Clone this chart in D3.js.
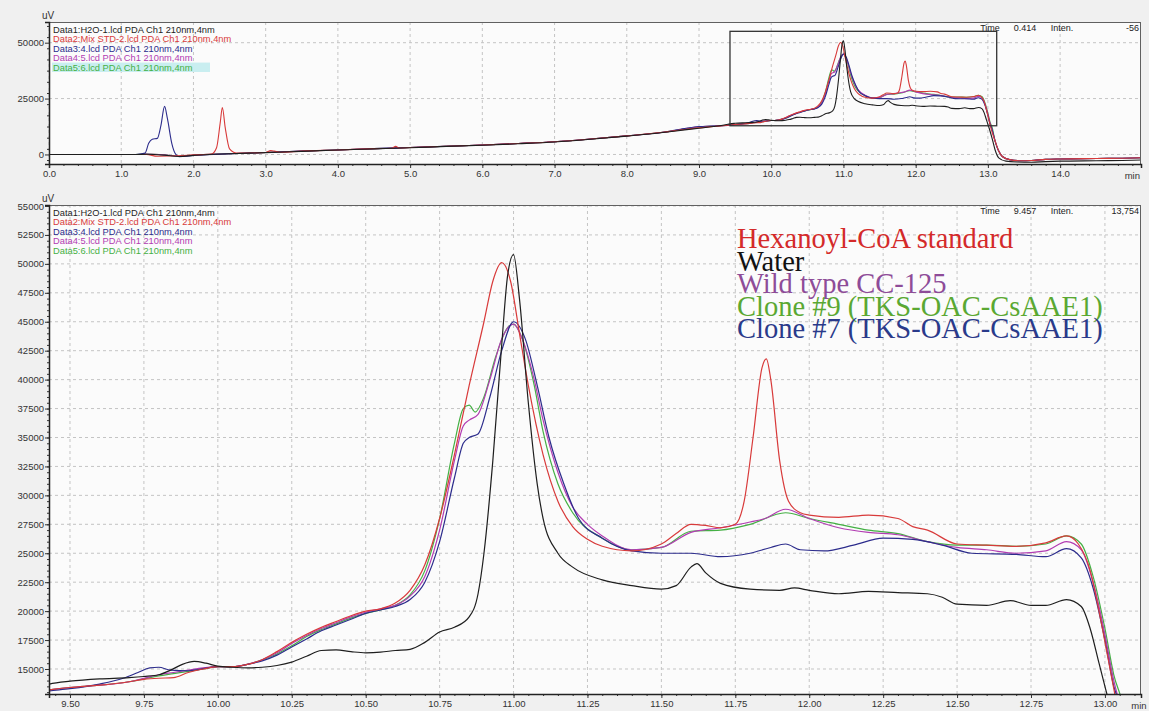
<!DOCTYPE html>
<html>
<head>
<meta charset="utf-8">
<script src="https://cdn.jsdelivr.net/npm/d3@7/dist/d3.min.js"></script>
<style>
  body { margin: 0; background: #f0f0f0; }
  svg { display: block; font-family: 'Liberation Sans', Arial, sans-serif; }
</style>
</head>
<body>
<svg id="chart" width="1149" height="711"></svg>
<script>
/* chromatogram data, [time (min), intensity (uV)] */
const waterEarly = [[0, 0], [1.2, 0], [1.35, 100], [1.6, -300], [1.8, -900], [2.0, -400], [2.5, 300], [3.0, 800], [3.5, 1400], [4.0, 2000],
  [4.5, 2500], [5.0, 3000], [5.5, 3600], [6.0, 4100], [6.5, 4800], [7.0, 5600], [7.5, 6800], [8.0, 8200], [8.5, 9800], [8.8, 11000],
  [9.0, 11700], [9.2, 12500], [9.4, 13500]];
const stdEarly = [[0, 0], [1.2, 0], [1.35, 0], [1.5, -800], [1.8, -600], [2.0, -200], [2.25, 200], [2.32, 3000], [2.37, 14000], [2.4, 21000],
  [2.44, 12000], [2.5, 2500], [2.6, 600], [3.0, 900], [3.07, 1700], [3.12, 1500], [3.2, 1000], [3.5, 1500], [4.0, 2000], [4.5, 2600],
  [4.75, 2800], [4.8, 3600], [4.85, 2900], [5.0, 3100], [5.5, 3700], [6.0, 4200], [6.5, 4900], [7.0, 5700], [7.5, 6900], [8.0, 8300],
  [8.5, 9900], [8.8, 11200], [9.0, 11900], [9.2, 12500], [9.4, 13100]];
const wtEarly = [[0, 0], [1.2, 0], [1.35, 200], [1.6, -200], [1.8, -800], [2.0, -300], [2.5, 300], [3.0, 900], [3.5, 1500], [4.0, 2000],
  [4.5, 2600], [5.0, 3100], [5.5, 3700], [6.0, 4200], [6.5, 4900], [7.0, 5700], [7.5, 6900], [8.0, 8300], [8.5, 9900], [8.8, 11500],
  [9.0, 12400], [9.2, 12700], [9.4, 13100]];
const c9Early = [[0, 0], [1.2, 0], [1.35, 150], [1.6, -200], [1.8, -800], [2.0, -300], [2.5, 300], [3.0, 900], [3.5, 1500], [4.0, 2000],
  [4.5, 2600], [5.0, 3100], [5.5, 3700], [6.0, 4200], [6.5, 4900], [7.0, 5700], [7.5, 6900], [8.0, 8300], [8.5, 9900], [8.8, 11400],
  [9.0, 12300], [9.2, 12700], [9.4, 13100]];
const c7Early = [[0, 0], [1.2, 0], [1.33, 600], [1.38, 5000], [1.43, 6800], [1.5, 7200], [1.55, 13000], [1.6, 21500], [1.64, 16000],
  [1.7, 5000], [1.75, 300], [1.8, -1000], [2.0, -500], [2.5, 300], [3.0, 900], [3.5, 1500], [4.0, 2000], [4.5, 2600], [5.0, 3100],
  [5.5, 3700], [6.0, 4200], [6.5, 4900], [7.0, 5700], [7.5, 6900], [8.0, 8300], [8.5, 9900], [8.8, 11600], [9.0, 12500], [9.2, 12700],
  [9.4, 13000]];

const waterMain = [[9.43, 13700], [9.5, 13950], [9.6, 14150], [9.7, 14250], [9.75, 14350], [9.8, 14500], [9.84, 14900], [9.88, 15400],
  [9.92, 15650], [9.96, 15500], [10.0, 15250], [10.05, 15150], [10.1, 15100], [10.15, 15150], [10.2, 15300], [10.25, 15600], [10.3, 16100],
  [10.35, 16600], [10.4, 16650], [10.45, 16500], [10.5, 16400], [10.55, 16450], [10.6, 16600], [10.65, 16700], [10.7, 17300],
  [10.75, 18200], [10.8, 18600], [10.85, 19500], [10.88, 21500], [10.9, 25000], [10.93, 33000], [10.96, 43000], [10.98, 49000],
  [11.0, 50800], [11.02, 47000], [11.05, 38000], [11.08, 31000], [11.1, 28000], [11.15, 25000], [11.2, 23800], [11.3, 22700],
  [11.4, 22200], [11.5, 21900], [11.55, 22200], [11.6, 23800], [11.62, 24100], [11.65, 23300], [11.7, 22400], [11.8, 21900],
  [11.9, 21800], [11.95, 22000], [12.0, 21800], [12.1, 21500], [12.2, 21700], [12.3, 21600], [12.4, 21500], [12.45, 21200],
  [12.5, 20600], [12.6, 20500], [12.68, 20900], [12.75, 20500], [12.8, 20500], [12.87, 21000], [12.92, 20400], [12.95, 18500],
  [12.98, 15500], [13.0, 13500], [13.02, 11500]];
const stdMain = [[9.43, 13200], [9.5, 13400], [9.6, 13600], [9.7, 13900], [9.75, 14100], [9.8, 14200], [9.85, 14250], [9.9, 14700],
  [9.95, 15000], [10.0, 15200], [10.05, 15200], [10.1, 15400], [10.15, 15800], [10.2, 16500], [10.25, 17300], [10.3, 18000],
  [10.35, 18600], [10.4, 19100], [10.45, 19600], [10.5, 20000], [10.55, 20200], [10.6, 20700], [10.65, 21800], [10.7, 24000],
  [10.75, 28000], [10.8, 33500], [10.85, 39500], [10.9, 45000], [10.93, 48500], [10.96, 50100], [10.99, 48500], [11.02, 44000],
  [11.05, 39500], [11.1, 33500], [11.15, 29500], [11.2, 27300], [11.25, 26200], [11.3, 25600], [11.4, 25200], [11.5, 25800],
  [11.55, 26700], [11.6, 27500], [11.65, 27400], [11.7, 27200], [11.75, 27500], [11.78, 29500], [11.81, 35000], [11.84, 41000],
  [11.855, 41800], [11.87, 40000], [11.9, 33000], [11.93, 29500], [11.97, 28500], [12.0, 28300], [12.1, 28100], [12.2, 28300],
  [12.3, 28000], [12.35, 27300], [12.4, 27000], [12.5, 25800], [12.6, 25700], [12.7, 25600], [12.8, 25900], [12.87, 26500],
  [12.91, 25800], [12.95, 23500], [12.98, 20000], [13.01, 16000], [13.04, 12000]];
const wtMain = [[9.43, 13200], [9.5, 13400], [9.6, 13600], [9.7, 13900], [9.75, 14200], [9.8, 14500], [9.85, 14700], [9.9, 14900],
  [9.95, 15100], [10.0, 15200], [10.05, 15200], [10.1, 15400], [10.15, 15800], [10.2, 16400], [10.25, 17200], [10.3, 17900],
  [10.35, 18500], [10.4, 19000], [10.45, 19500], [10.5, 19900], [10.55, 20200], [10.6, 20500], [10.65, 21300], [10.7, 23000],
  [10.75, 27000], [10.8, 33000], [10.83, 36000], [10.85, 36500], [10.88, 37000], [10.92, 40000], [10.96, 43500], [11.0, 44800],
  [11.03, 43500], [11.07, 40000], [11.1, 36500], [11.15, 32000], [11.2, 29000], [11.25, 27500], [11.3, 26500], [11.4, 25300],
  [11.5, 25500], [11.6, 26800], [11.7, 27200], [11.8, 27700], [11.85, 28000], [11.92, 28800], [12.0, 28000], [12.1, 27200],
  [12.2, 26800], [12.3, 26600], [12.4, 26000], [12.5, 25500], [12.6, 25300], [12.7, 25000], [12.8, 25200], [12.87, 26000],
  [12.92, 25300], [12.96, 22500], [13.0, 18000], [13.03, 14000], [13.05, 12000]];
const c9Main = [[9.43, 13200], [9.5, 13400], [9.6, 13600], [9.7, 13900], [9.75, 14150], [9.8, 14400], [9.85, 14600], [9.9, 14800],
  [9.95, 15000], [10.0, 15200], [10.05, 15200], [10.1, 15400], [10.15, 15800], [10.2, 16300], [10.25, 17000], [10.3, 17800],
  [10.35, 18400], [10.4, 18900], [10.45, 19400], [10.5, 19800], [10.55, 20100], [10.6, 20500], [10.65, 21400], [10.7, 23500],
  [10.75, 28000], [10.8, 34500], [10.83, 37500], [10.85, 37800], [10.87, 37200], [10.9, 38500], [10.94, 42000], [10.98, 44500],
  [11.0, 44800], [11.03, 43500], [11.07, 39500], [11.1, 35500], [11.15, 31000], [11.2, 28500], [11.3, 26300], [11.4, 25300],
  [11.5, 25500], [11.6, 26900], [11.7, 27000], [11.8, 27500], [11.92, 28500], [12.0, 28000], [12.1, 27500], [12.2, 27000],
  [12.3, 26700], [12.4, 26000], [12.5, 25700], [12.6, 25700], [12.7, 25600], [12.8, 25800], [12.87, 26500], [12.92, 25800],
  [12.96, 23000], [13.0, 18500], [13.03, 14500], [13.06, 12000]];
const c7Main = [[9.43, 13100], [9.5, 13300], [9.6, 13700], [9.68, 14200], [9.73, 14700], [9.77, 15100], [9.8, 15150], [9.84, 14900],
  [9.9, 14850], [10.0, 15200], [10.05, 15200], [10.1, 15400], [10.15, 15700], [10.2, 16200], [10.25, 16900], [10.3, 17600],
  [10.35, 18300], [10.4, 18800], [10.45, 19300], [10.5, 19800], [10.55, 20100], [10.6, 20400], [10.65, 21000], [10.7, 22500],
  [10.75, 26000], [10.8, 31500], [10.83, 34500], [10.85, 35000], [10.88, 35300], [10.92, 38500], [10.96, 42500], [11.0, 45000],
  [11.04, 43500], [11.08, 39500], [11.12, 35000], [11.17, 31000], [11.22, 28000], [11.3, 26300], [11.4, 25200], [11.5, 25000],
  [11.6, 25000], [11.7, 24700], [11.8, 25000], [11.87, 25500], [11.92, 25800], [11.97, 25300], [12.05, 25200], [12.15, 25700],
  [12.25, 26300], [12.35, 26200], [12.45, 25700], [12.55, 25000], [12.7, 24900], [12.8, 24700], [12.87, 25400], [12.92, 24600],
  [12.96, 22000], [13.0, 17500], [13.03, 13500], [13.05, 12000]];

const waterTail = [[13.06, 7000], [13.1, 2000], [13.15, -1500], [13.25, -3000], [13.4, -3400], [13.6, -3500], [13.8, -3200],
  [14.0, -3000], [14.5, -2800], [15.0, -2600], [15.12, -2500]];
const sampleTail = [[13.1, 6000], [13.15, 1500], [13.2, -900], [13.3, -2300], [13.45, -2800], [13.6, -2700], [13.8, -2200],
  [14.0, -2000], [14.5, -1800], [15.0, -1600], [15.12, -1500]];

const seriesNames = ['Data1:H2O-1.lcd PDA Ch1 210nm,4nm', 'Data2:Mix STD-2.lcd PDA Ch1 210nm,4nm',
  'Data3:4.lcd PDA Ch1 210nm,4nm', 'Data4:5.lcd PDA Ch1 210nm,4nm', 'Data5:6.lcd PDA Ch1 210nm,4nm'];
const seriesColors = ['#1e1e1e', '#d83a3a', '#2c2c8c', '#b23cb2', '#44b044'];
const seriesData = [
  waterEarly.concat(waterMain, waterTail),
  stdEarly.concat(stdMain, sampleTail),
  c7Early.concat(c7Main, sampleTail),
  wtEarly.concat(wtMain, sampleTail),
  c9Early.concat(c9Main, sampleTail),
];
// draw order, back to front
const drawOrder = [4, 3, 2, 1, 0];

const legendLabels = ['Hexanoyl-CoA standard', 'Water', 'Wild type CC-125', 'Clone #9 (TKS-OAC-CsAAE1)', 'Clone #7 (TKS-OAC-CsAAE1)'];
const legendColors = ['#d42a2a', '#111111', '#8e4c98', '#5aa832', '#2a3a8a'];

const topXTicks = d3.range(0, 15, 1);
const topYTicks = [0, 25000, 50000];
const botXTicks = d3.range(9.5, 13.01, 0.25);
const botYTicks = d3.range(15000, 55001, 2500);

const svg = d3.select('#chart');
const left = 49;
const right = 1141;

/**
 * Build one chromatogram panel
 * @param {obj} p panel settings
 */
function panel(p) {
  const { x, y, id } = p;
  const [y1, y0] = y.range();
  const g = svg.append('g').attr('class', id);

  g.append('rect')
    .attr('x', left).attr('y', y0)
    .attr('width', right - left).attr('height', y1 - y0)
    .attr('fill', '#fbfbfb');

  // dashed grid
  g.append('g')
    .selectAll('line')
    .data(p.xTicks)
    .join('line')
    .attr('x1', (d) => x(d)).attr('x2', (d) => x(d))
    .attr('y1', y0).attr('y2', y1)
    .attr('stroke', '#c4c4c4')
    .attr('stroke-dasharray', '3,3');
  g.append('g')
    .selectAll('line')
    .data(p.yTicks)
    .join('line')
    .attr('y1', (d) => y(d)).attr('y2', (d) => y(d))
    .attr('x1', left).attr('x2', right)
    .attr('stroke', '#c4c4c4')
    .attr('stroke-dasharray', '3,3');

  // traces
  g.append('clipPath').attr('id', `clip-${id}`)
    .append('rect')
    .attr('x', left).attr('y', y0)
    .attr('width', right - left).attr('height', y1 - y0);
  const line = d3.line()
    .x((d) => x(d[0]))
    .y((d) => y(d[1]))
    .curve(d3.curveMonotoneX);
  g.append('g')
    .attr('clip-path', `url(#clip-${id})`)
    .selectAll('path')
    .data(drawOrder)
    .join('path')
    .attr('d', (i) => line(seriesData[i]))
    .attr('fill', 'none')
    .attr('stroke', (i) => seriesColors[i])
    .attr('stroke-width', p.lineWidth)
    .attr('stroke-linejoin', 'round');

  // frame
  g.append('rect')
    .attr('x', left + 0.5).attr('y', y0 + 0.5)
    .attr('width', right - left - 1).attr('height', y1 - y0)
    .attr('fill', 'none')
    .attr('stroke', '#606060');

  // axes
  g.append('g')
    .attr('transform', `translate(0,${y1})`)
    .call(d3.axisBottom(x).tickValues(p.xMinor).tickSize(2).tickFormat(''))
    .call((a) => a.select('.domain').remove());
  g.append('g')
    .attr('transform', `translate(0,${y1})`)
    .call(d3.axisBottom(x).tickValues(p.xTicks).tickSize(4).tickPadding(2).tickFormat(p.xFormat))
    .call((a) => a.select('.domain').attr('stroke', '#222').attr('stroke-width', 1.5));
  g.append('g')
    .attr('transform', `translate(${left},0)`)
    .call(d3.axisLeft(y).tickValues(p.yMinor).tickSize(2).tickFormat(''))
    .call((a) => a.select('.domain').remove());
  g.append('g')
    .attr('transform', `translate(${left},0)`)
    .call(d3.axisLeft(y).tickValues(p.yTicks).tickSize(4).tickPadding(1).tickFormat((d) => `${d}`))
    .call((a) => a.select('.domain').attr('stroke', '#222').attr('stroke-width', 1.5));
  g.selectAll('.tick text')
    .attr('fill', '#333')
    .style('font-size', '9.5px');
  g.selectAll('.tick line').attr('stroke', '#333');

  g.append('text')
    .attr('x', x(p.minAt)).attr('y', y1 + 15)
    .attr('text-anchor', 'middle')
    .attr('fill', '#333')
    .style('font-size', '9.5px')
    .text('min');
  g.append('text')
    .attr('x', 42).attr('y', y0 - 3)
    .attr('fill', '#333')
    .style('font-size', '10px')
    .text('uV');

  // data file legend
  g.append('rect')
    .attr('x', left + 3).attr('y', y0 + 3 + 4 * 9.4)
    .attr('width', 158).attr('height', 9.4)
    .attr('fill', p.highlight ? '#c9eef0' : 'none');
  g.append('g')
    .selectAll('text')
    .data(seriesNames)
    .join('text')
    .attr('x', left + 4)
    .attr('y', (d, i) => y0 + 11 + i * 9.4)
    .attr('fill', (d, i) => seriesColors[i])
    .style('font-size', '9.3px')
    .text((d) => d);

  // cursor readout
  const readout = g.append('g').style('font-size', '9px').attr('fill', '#222');
  readout.append('text').attr('x', 990).attr('y', y0 + 9).attr('text-anchor', 'middle').text('Time');
  readout.append('text').attr('x', 1025).attr('y', y0 + 9).attr('text-anchor', 'middle').text(p.time);
  readout.append('text').attr('x', 1062).attr('y', y0 + 9).attr('text-anchor', 'middle').text('Inten.');
  readout.append('text').attr('x', right - 2).attr('y', y0 + 9).attr('text-anchor', 'end').text(p.inten);
  return g;
}

const xTop = d3.scaleLinear().domain([0, 15.12]).range([left, right]);
const yTop = d3.scaleLinear().domain([-4270, 59260]).range([164, 22]);
const xBot = d3.scaleLinear().domain([9.429, 13.122]).range([left, right]);
const yBot = d3.scaleLinear().domain([12840, 55086]).range([694, 205]);

const topPanel = panel({
  id: 'overview',
  x: xTop,
  y: yTop,
  xTicks: topXTicks,
  yTicks: topYTicks,
  xMinor: d3.range(0, 15.01, 0.2),
  yMinor: d3.range(-2500, 57501, 5000),
  xFormat: d3.format('.1f'),
  minAt: 15,
  lineWidth: 1.1,
  highlight: true,
  time: '0.414',
  inten: '-56',
});

// zoom window shown in the lower panel
topPanel.append('rect')
  .attr('x', xTop(xBot.domain()[0]))
  .attr('y', yTop(yBot.domain()[1]))
  .attr('width', xTop(xBot.domain()[1]) - xTop(xBot.domain()[0]))
  .attr('height', yTop(yBot.domain()[0]) - yTop(yBot.domain()[1]))
  .attr('fill', 'none')
  .attr('stroke', '#333')
  .attr('stroke-width', 1.3);

const botPanel = panel({
  id: 'detail',
  x: xBot,
  y: yBot,
  xTicks: botXTicks,
  yTicks: botYTicks,
  xMinor: d3.range(9.45, 13.11, 0.05),
  yMinor: d3.range(13000, 55001, 500),
  xFormat: d3.format('.2f'),
  minAt: 13.115,
  lineWidth: 1.2,
  highlight: false,
  time: '9.457',
  inten: '13,754',
});

// sample legend
botPanel.append('g')
  .selectAll('text')
  .data(legendLabels)
  .join('text')
  .attr('x', 737)
  .attr('y', (d, i) => 248 + i * 22.6)
  .attr('fill', (d, i) => legendColors[i])
  .style('font-family', "'Liberation Serif', 'Times New Roman', serif")
  .style('font-size', '28.5px')
  .text((d) => d);
</script>
</body>
</html>
